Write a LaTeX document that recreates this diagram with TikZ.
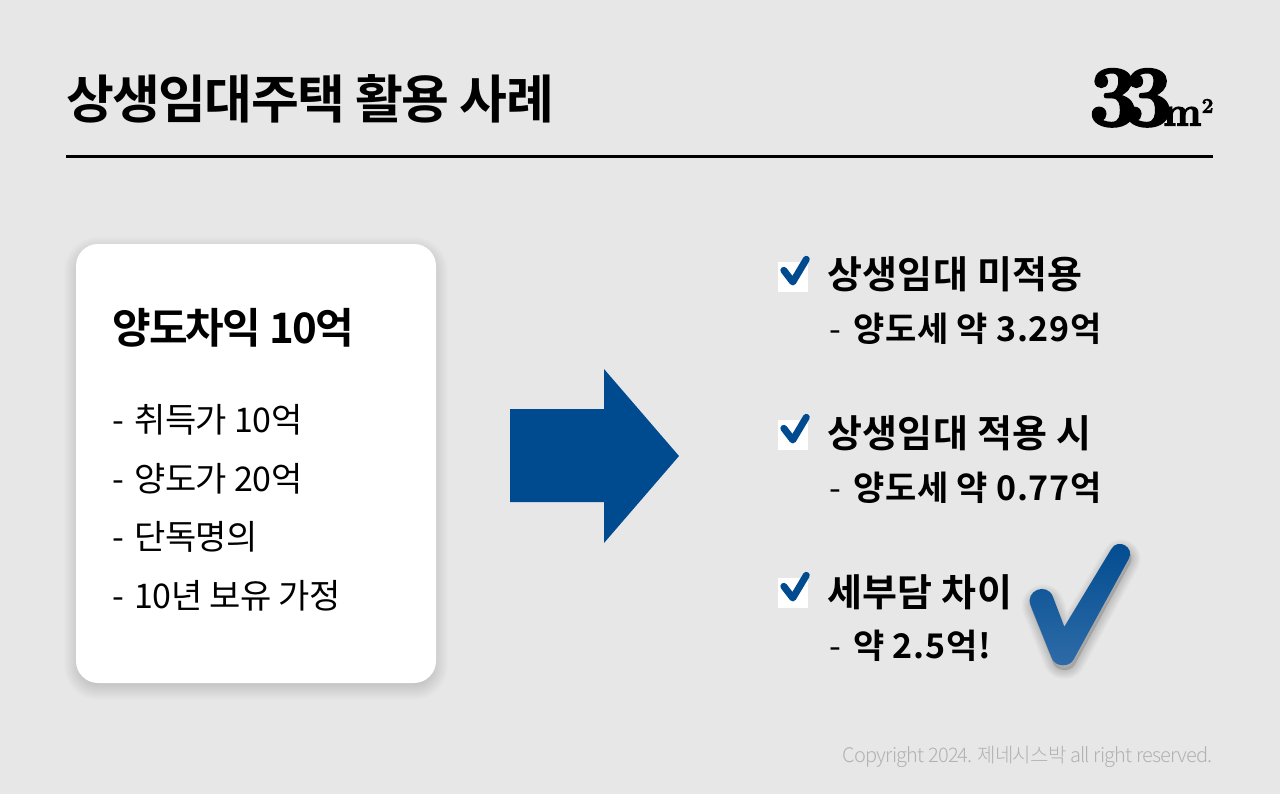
\documentclass[tikz,border=0pt]{standalone}
\usepackage{fontspec}
\newfontfamily\kr{Noto Sans CJK KR}
\newfontfamily\krb{Noto Sans CJK KR Bold}
\newfontfamily\krl{Noto Sans CJK KR Light}
\newfontfamily\logofont{Latin Modern Roman}[BoldFeatures={FakeBold=3}]
\definecolor{bgc}{HTML}{E7E7E7}
\definecolor{navy}{HTML}{004B8F}
\definecolor{gradlow}{HTML}{2F6CA8}
\definecolor{foot}{HTML}{B2B2B2}
\newcommand{\px}[1]{\fontsize{\dimexpr #1pt*3/4\relax}{\dimexpr #1pt*9/10\relax}\selectfont}
\tikzset{
  lbl/.style={anchor=base west,inner sep=0pt,outer sep=0pt,text=black},
  cardbody/.style={lbl,font=\kr\px{34}\addfontfeature{LetterSpace=-1.5}},
  headtxt/.style={lbl,font=\krb\px{38}\addfontfeature{LetterSpace=1}},
  subtxt/.style={lbl,font=\krb\px{34}\addfontfeature{LetterSpace=2}},
  tick/.style={draw=navy,line width=5.2pt,line cap=round,line join=round},
}
\begin{document}
\begin{tikzpicture}[x=0.75pt,y=-0.75pt]
\useasboundingbox (0,0) rectangle (1280,794);
\fill[bgc] (0,0) rectangle (1280,794);
% title
\node[lbl,font=\krb\px{52}\addfontfeature{LetterSpace=-3}] (title) at (66,118) {상생임대주택 활용 사례};
\coordinate (ruleL) at (66,156.5);
\coordinate (ruleR) at (1213,156.5);
\draw[black,line width=2.2pt] (ruleL) -- (ruleR);
% logo
\node[lbl,font=\logofont\bfseries] (logo) at (1089,125.5) {\px{86}3\kern-10pt 3\kern-7pt\px{41}m\raise9.5pt\hbox{\px{21}2}};
% card
\foreach \i in {0,...,19}{
  \fill[black,opacity=0.0085,rounded corners={(22+12-\i)*0.75pt}]
    (76-12+\i,244-7+\i) rectangle (436+12-\i,683+17-\i);
}
\fill[white,rounded corners=16.5pt] (76,244) rectangle (436,683);
\node[lbl,font=\krb\px{42}\addfontfeature{LetterSpace=-4}] (c0) at (112,343) {양도차익 10억};
\node[cardbody] (c1) at (112,432) {-\kern2.6pt{} 취득가 10억};
\node[cardbody] (c2) at (112,491) {-\kern2.6pt{} 양도가 20억};
\node[cardbody] (c3) at (112,549) {-\kern2.6pt{} 단독명의};
\node[cardbody] (c4) at (112,608) {-\kern2.6pt{} 10년 보유 가정};
% arrow
\fill[navy] (510,409) -- (604,409) -- (604,369) -- (679,456) -- (604,543) -- (604,502) -- (510,502) -- cycle;
% checks
\foreach \o/\n in {0/a,158/b,316/c}{
  \begin{scope}[yshift={-\o*0.75pt}]
    \fill[white] (778,262) rectangle (808,292);
    \draw[tick] (783.8,270.3) -- (792.8,282) -- (806.3,259.3);
  \end{scope}
}
\node[headtxt] (h1) at (827,288) {상생임대 미적용};
\node[subtxt] (s1) at (829,341) {{\kr\px{34}-}\kern3pt{} 양도세 약 3.29억};
\node[headtxt] (h2) at (827,447) {상생임대 적용 시};
\node[subtxt] (s2) at (829,500) {{\kr\px{34}-}\kern3pt{} 양도세 약 0.77억};
\node[headtxt] (h3) at (827,606) {세부담 차이};
\node[subtxt] (s3) at (829,658) {{\kr\px{34}-}\kern3pt{} 약 2.5억!};
% big check shadow
\def\bigcheck{(1064.3,626.7) -- (1111.3,549) .. controls (1117.9,537.4) and (1135.3,547.4) .. (1128.7,559) -- (1073.4,659.9) .. controls (1069,667.7) and (1055.3,666.9) .. (1051.9,658.5) -- (1030.6,605.5) .. controls (1024.6,590.7) and (1046.8,581.7) .. (1052.8,596.5) -- cycle}
\foreach \i in {1,...,10}{
  \draw[black,opacity=0.016,line join=round,line width={\i*1.4pt},shift={(1pt,-3.5pt)}] \bigcheck;
}
\fill[black,opacity=0.15,shift={(1pt,-3.5pt)}] \bigcheck;
\shade[top color=navy,bottom color=gradlow] \bigcheck;
% footer
\node[anchor=base east,inner sep=0pt,text=foot,font=\krl\px{20}\addfontfeature{LetterSpace=-4}] (ft) at (1213,762) {Copyright 2024. 제네시스박 all right reserved.};
\end{tikzpicture}
\end{document}
